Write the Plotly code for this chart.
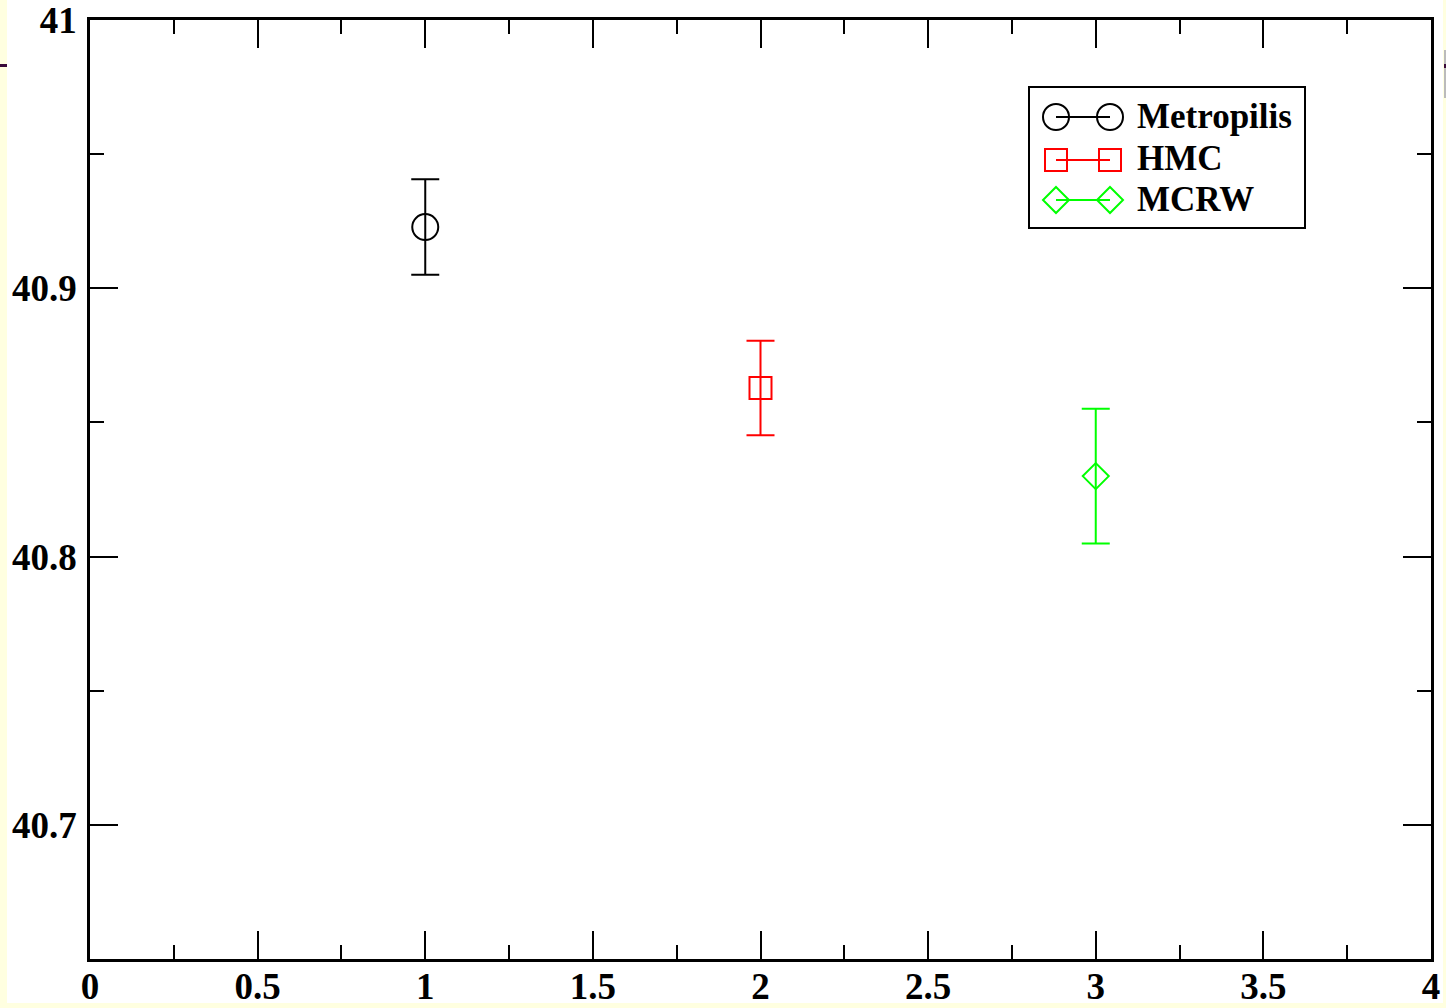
import plotly.graph_objects as go

# ---- data ----
series_names = ["Metropilis", "HMC", "MCRW"]
x_values = [1, 2, 3]
y_values = [40.9228, 40.8628, 40.8300]
y_errors = [0.0178, 0.0176, 0.0251]
colors = ["#000000", "#FF0000", "#00FF00"]
symbols = ["circle-open", "square-open", "diamond-open"]
sizes = [26, 22, 20]

x_tickvals = [0, 0.5, 1, 1.5, 2, 2.5, 3, 3.5, 4]
x_ticktext = ["0", "0.5", "1", "1.5", "2", "2.5", "3", "3.5", "4"]
y_tickvals = [40.7, 40.8, 40.9, 41]
y_ticktext = ["40.7", "40.8", "40.9", "41"]

W, H = 1446, 1008
L, R, T, B = 90, 15, 20, 49
PW, PH = W - L - R, H - T - B
FONT = "Liberation Serif"

def px(xp):
    return (xp - L) / PW

def py(yp):
    return (H - B - yp) / PH

fig = go.Figure()
for name, xv, yv, ev, c, s, sz in zip(series_names, x_values, y_values, y_errors, colors, symbols, sizes):
    fig.add_trace(go.Scatter(
        x=[xv], y=[yv], name=name, mode="lines+markers",
        marker=dict(symbol=s, size=sz, color=c, line=dict(width=2, color=c)),
        line=dict(color=c, width=2),
        error_y=dict(type="data", array=[ev], visible=True, color=c, thickness=2, width=14),
        showlegend=False,
    ))

shapes = []
# white page area over the pale-yellow surround
shapes.append(dict(type="rect", xref="paper", yref="paper", layer="below",
                   x0=px(7), x1=px(1443), y0=py(1003), y1=py(0),
                   fillcolor="white", line=dict(width=0)))
# edge artefacts
shapes.append(dict(type="rect", xref="paper", yref="paper", layer="above",
                   x0=px(0), x1=px(7), y0=py(67), y1=py(64),
                   fillcolor="#3a0a3a", line=dict(width=0)))
shapes.append(dict(type="rect", xref="paper", yref="paper", layer="above",
                   x0=px(1444), x1=px(1446), y0=py(98), y1=py(50),
                   fillcolor="#bbbbbb", line=dict(width=0)))
shapes.append(dict(type="rect", xref="paper", yref="paper", layer="above",
                   x0=px(1444), x1=px(1446), y0=py(68), y1=py(64),
                   fillcolor="#3a0a3a", line=dict(width=0)))

# manual legend
shapes.append(dict(type="rect", xref="paper", yref="paper", layer="above",
                   x0=px(1029), x1=px(1305), y0=py(228), y1=py(87),
                   fillcolor="white", line=dict(color="black", width=2)))
rows_y = [117, 160, 200]
xa, xb = 1056, 1110
annotations = []
for name, c, s, ry in zip(series_names, colors, symbols, rows_y):
    shapes.append(dict(type="line", xref="paper", yref="paper", layer="above",
                       x0=px(xa), x1=px(xb), y0=py(ry), y1=py(ry),
                       line=dict(color=c, width=2)))
    for cx in (xa, xb):
        if s.startswith("circle"):
            r = 13
            shapes.append(dict(type="circle", xref="paper", yref="paper", layer="above",
                               x0=px(cx - r), x1=px(cx + r), y0=py(ry + r), y1=py(ry - r),
                               line=dict(color=c, width=2)))
        elif s.startswith("square"):
            r = 11
            shapes.append(dict(type="rect", xref="paper", yref="paper", layer="above",
                               x0=px(cx - r), x1=px(cx + r), y0=py(ry + r), y1=py(ry - r),
                               line=dict(color=c, width=2)))
        else:
            r = 13
            path = "M {a},{b} L {c},{d} L {a},{e} L {f},{d} Z".format(
                a=px(cx), b=py(ry - r), c=px(cx + r), d=py(ry), e=py(ry + r), f=px(cx - r))
            shapes.append(dict(type="path", xref="paper", yref="paper", layer="above",
                               path=path, line=dict(color=c, width=2)))
    annotations.append(dict(xref="paper", yref="paper", x=px(1135), y=py(ry - 1),
                            xanchor="left", yanchor="middle", showarrow=False,
                            text="<b>" + name + "</b>",
                            font=dict(family=FONT, size=35, color="black")))

axis_common = dict(
    showline=True, linecolor="black", linewidth=2.5, mirror="allticks",
    ticks="inside", ticklen=28, tickwidth=2, tickcolor="black",
    showgrid=False, zeroline=False, automargin=False, ticklabeloverflow="allow",
    tickfont=dict(family=FONT, size=37, color="black", weight="bold"),
)

fig.update_layout(
    width=W, height=H,
    margin=dict(l=L, r=R, t=T, b=B, pad=0, autoexpand=False),
    paper_bgcolor="#FFFFE0", plot_bgcolor="white",
    showlegend=False,
    xaxis=dict(range=[0, 4], tickmode="array", tickvals=x_tickvals, ticktext=x_ticktext,
               minor=dict(ticks="inside", ticklen=14, tickwidth=2, tickcolor="black", dtick=0.25, tick0=0),
               ticklabelstandoff=-7, **axis_common),
    yaxis=dict(range=[40.65, 41], tickmode="array", tickvals=y_tickvals, ticktext=y_ticktext,
               minor=dict(ticks="inside", ticklen=14, tickwidth=2, tickcolor="black", dtick=0.05, tick0=40.65),
               ticklabelstandoff=3, **axis_common),
    shapes=shapes, annotations=annotations,
)

fig.write_html("out.html")
